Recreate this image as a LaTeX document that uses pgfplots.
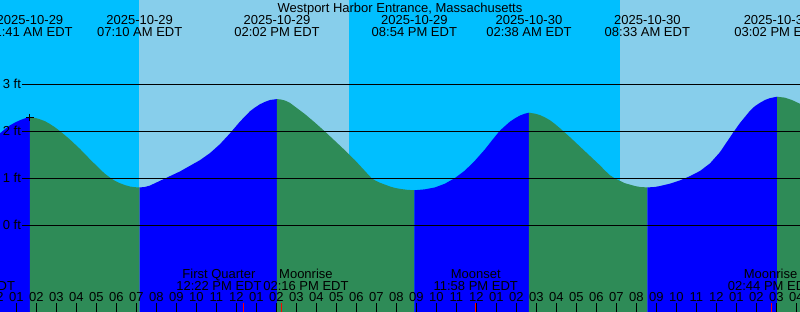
\documentclass[border=0pt]{standalone}
\usepackage{fontspec}
\setmainfont{Liberation Sans}
\usepackage{pgfplots}
\pgfplotsset{compat=1.18}
\definecolor{night}{RGB}{0,191,255}
\definecolor{day}{RGB}{135,206,235}
\definecolor{ebb}{RGB}{46,139,87}
\definecolor{flood}{RGB}{0,0,255}
\newcommand{\lbl}{\fontsize{13bp}{15bp}\selectfont}
\begin{document}
\begin{tikzpicture}
\tikzset{every node/.style={font=\lbl, inner sep=0pt, text=black}}
\path[use as bounding box, clip] (0,0) rectangle (800bp,312bp);
\begin{axis}[
  at={(0,0)}, anchor=south west,
  width=800bp, height=312bp, scale only axis,
  xmin=0.1833, xmax=40.1833, ymin=-1.84, ymax=4.798,
  clip=false,
  axis line style={draw=none},
  axis on top,
  ytick=\empty,
  xtick={1,...,40},
  xticklabels={01,02,03,04,05,06,07,08,09,10,11,12,01,02,03,04,05,06,07,08,09,10,11,12,01,02,03,04,05,06,07,08,09,10,11,12,01,02,03,04},
  xtick pos=bottom,
  tick align=inside,
  major tick length=0pt,
  xticklabel style={anchor=base, yshift=10.3bp, inner sep=0pt, font=\lbl},
]
% day / night background
\addplot[draw=none, fill=night] coordinates {(0.1,-1.9) (7.133,-1.9) (7.133,4.9) (0.1,4.9)} -- cycle;
\addplot[draw=none, fill=day] coordinates {(7.133,-1.9) (17.633,-1.9) (17.633,4.9) (7.133,4.9)} -- cycle;
\addplot[draw=none, fill=night] coordinates {(17.633,-1.9) (31.183,-1.9) (31.183,4.9) (17.633,4.9)} -- cycle;
\addplot[draw=none, fill=day] coordinates {(31.183,-1.9) (40.3,-1.9) (40.3,4.9) (31.183,4.9)} -- cycle;
% tide: rising (blue) and falling (green)
\addplot[draw=none, fill=flood] coordinates {(0.1,-1.9) (0.1,1.94) (0.18,1.96) (0.43,2.05) (0.68,2.13) (0.93,2.19) (1.18,2.24) (1.43,2.28) (1.683,2.30) (1.683,-1.9)} -- cycle;
\addplot[draw=none, fill=ebb] coordinates {(1.683,-1.9) (1.683,2.30) (1.93,2.29) (2.18,2.26) (2.43,2.22) (2.68,2.16) (2.93,2.09) (3.18,2.01) (3.68,1.83) (4.18,1.63) (4.68,1.41) (5.18,1.20) (5.43,1.10) (5.68,1.02) (5.93,0.95) (6.18,0.90) (6.43,0.86) (6.68,0.83) (6.93,0.815) (7.167,0.81) (7.167,-1.9)} -- cycle;
\addplot[draw=none, fill=flood] coordinates {(7.167,-1.9) (7.167,0.81) (7.43,0.82) (7.68,0.85) (8.18,0.95) (8.68,1.05) (9.18,1.15) (9.68,1.27) (10.18,1.39) (10.68,1.54) (11.18,1.73) (11.68,1.96) (12.18,2.21) (12.68,2.43) (12.93,2.51) (13.18,2.58) (13.43,2.63) (13.68,2.67) (14.033,2.69) (14.033,-1.9)} -- cycle;
\addplot[draw=none, fill=ebb] coordinates {(14.033,-1.9) (14.033,2.69) (14.23,2.68) (14.43,2.66) (14.68,2.61) (14.93,2.53) (15.18,2.45) (15.43,2.37) (15.93,2.19) (16.43,2.00) (16.93,1.80) (17.43,1.60) (17.93,1.39) (18.43,1.16) (18.58,1.09) (18.78,1.00) (18.98,0.95) (19.18,0.91) (19.43,0.87) (19.68,0.83) (19.93,0.80) (20.18,0.78) (20.53,0.76) (20.9,0.75) (20.9,-1.9)} -- cycle;
\addplot[draw=none, fill=flood] coordinates {(20.9,-1.9) (20.9,0.75) (21.18,0.76) (21.43,0.77) (21.93,0.81) (22.43,0.89) (22.93,1.01) (23.43,1.17) (23.93,1.38) (24.43,1.62) (24.78,1.81) (25.18,2.02) (25.68,2.21) (25.93,2.28) (26.18,2.34) (26.43,2.38) (26.633,2.40) (26.633,-1.9)} -- cycle;
\addplot[draw=none, fill=ebb] coordinates {(26.633,-1.9) (26.633,2.40) (26.93,2.38) (27.18,2.35) (27.43,2.30) (27.68,2.24) (27.93,2.16) (28.18,2.07) (28.68,1.88) (29.18,1.68) (29.68,1.48) (30.18,1.28) (30.43,1.17) (30.68,1.07) (30.93,1.00) (31.18,0.95) (31.43,0.90) (31.68,0.87) (31.93,0.84) (32.18,0.82) (32.55,0.81) (32.55,-1.9)} -- cycle;
\addplot[draw=none, fill=flood] coordinates {(32.55,-1.9) (32.55,0.81) (32.93,0.82) (33.18,0.84) (33.68,0.89) (34.18,0.96) (34.68,1.05) (35.18,1.16) (35.68,1.32) (36.18,1.56) (36.53,1.78) (36.83,1.97) (37.18,2.18) (37.68,2.44) (37.93,2.54) (38.18,2.61) (38.43,2.67) (38.68,2.71) (39.033,2.74) (39.033,-1.9)} -- cycle;
\addplot[draw=none, fill=ebb] coordinates {(39.033,-1.9) (39.033,2.74) (39.23,2.73) (39.43,2.72) (39.78,2.67) (40.18,2.59) (40.3,2.56) (40.3,-1.9)} -- cycle;
% height lines
\addplot[black, line width=1bp] coordinates {(1.28,3) (40.3,3)};
\addplot[black, line width=1bp] coordinates {(1.28,2) (40.3,2)};
\addplot[black, line width=1bp] coordinates {(1.28,1) (40.3,1)};
\addplot[black, line width=1bp] coordinates {(1.28,0) (40.3,0)};
% hour ticks
\addplot[only marks, mark=|, mark size=4.5bp, mark options={black, line width=1bp}] coordinates {(1,-1.745) (2,-1.745) (3,-1.745) (4,-1.745) (5,-1.745) (6,-1.745) (7,-1.745) (8,-1.745) (9,-1.745) (10,-1.745) (11,-1.745) (12,-1.745) (13,-1.745) (14,-1.745) (15,-1.745) (16,-1.745) (17,-1.745) (18,-1.745) (19,-1.745) (20,-1.745) (21,-1.745) (22,-1.745) (23,-1.745) (24,-1.745) (25,-1.745) (26,-1.745) (27,-1.745) (28,-1.745) (29,-1.745) (30,-1.745) (31,-1.745) (32,-1.745) (33,-1.745) (34,-1.745) (35,-1.745) (36,-1.745) (37,-1.745) (38,-1.745) (39,-1.745) (40,-1.745)};
% moon event ticks
\addplot[only marks, mark=|, mark size=4.5bp, mark options={red, line width=1bp}] coordinates {(12.367,-1.745) (14.267,-1.745) (23.967,-1.745) (38.733,-1.745)};
% current time marker
\addplot[only marks, mark=+, mark size=3.7bp, mark options={black, line width=1bp}] coordinates {(1.683,2.30)};
% y labels
\node[anchor=base west, xshift=2.7bp, yshift=-4.3bp] at (axis cs:0.1833,3) {3 ft};
\node[anchor=base west, xshift=2.7bp, yshift=-4.3bp] at (axis cs:0.1833,2) {2 ft};
\node[anchor=base west, xshift=2.7bp, yshift=-4.3bp] at (axis cs:0.1833,1) {1 ft};
\node[anchor=base west, xshift=2.7bp, yshift=-4.3bp] at (axis cs:0.1833,0) {0 ft};
% title
\node[anchor=base, yshift=-12.3bp] at (axis cs:20.1833,4.798) {Westport Harbor Entrance, Massachusetts};
% tide event labels
\node[anchor=base, yshift=-25bp] at (axis cs:1.683,4.798) {2025-10-29};
\node[anchor=base, yshift=-36.7bp] at (axis cs:1.683,4.798) {01:41 AM EDT};
\node[anchor=base, yshift=-25bp] at (axis cs:7.167,4.798) {2025-10-29};
\node[anchor=base, yshift=-36.7bp] at (axis cs:7.167,4.798) {07:10 AM EDT};
\node[anchor=base, yshift=-25bp] at (axis cs:14.033,4.798) {2025-10-29};
\node[anchor=base, yshift=-36.7bp] at (axis cs:14.033,4.798) {02:02 PM EDT};
\node[anchor=base, yshift=-25bp] at (axis cs:20.9,4.798) {2025-10-29};
\node[anchor=base, yshift=-36.7bp] at (axis cs:20.9,4.798) {08:54 PM EDT};
\node[anchor=base, yshift=-25bp] at (axis cs:26.633,4.798) {2025-10-30};
\node[anchor=base, yshift=-36.7bp] at (axis cs:26.633,4.798) {02:38 AM EDT};
\node[anchor=base, yshift=-25bp] at (axis cs:32.55,4.798) {2025-10-30};
\node[anchor=base, yshift=-36.7bp] at (axis cs:32.55,4.798) {08:33 AM EDT};
\node[anchor=base, yshift=-25bp] at (axis cs:39.033,4.798) {2025-10-30};
\node[anchor=base, yshift=-36.7bp] at (axis cs:39.033,4.798) {03:02 PM EDT};
% moon event labels
\node[anchor=base, yshift=33.7bp] at (axis cs:-1.2,-1.84) {Moonset};
\node[anchor=base, yshift=22bp] at (axis cs:-1.2,-1.84) {10:48 PM EDT};
\node[anchor=base, yshift=33.7bp] at (axis cs:11.13,-1.84) {First Quarter};
\node[anchor=base, yshift=22bp] at (axis cs:11.13,-1.84) {12:22 PM EDT};
\node[anchor=base, yshift=33.7bp] at (axis cs:15.48,-1.84) {Moonrise};
\node[anchor=base, yshift=22bp] at (axis cs:15.48,-1.84) {02:16 PM EDT};
\node[anchor=base, yshift=33.7bp] at (axis cs:23.97,-1.84) {Moonset};
\node[anchor=base, yshift=22bp] at (axis cs:23.97,-1.84) {11:58 PM EDT};
\node[anchor=base, yshift=33.7bp] at (axis cs:38.71,-1.84) {Moonrise};
\node[anchor=base, yshift=22bp] at (axis cs:38.71,-1.84) {02:44 PM EDT};
% hour label at midnight start (mostly off the left edge)
\node[anchor=base, yshift=10.3bp] at (axis cs:0,-1.84) {12};
\end{axis}
\end{tikzpicture}
\end{document}
